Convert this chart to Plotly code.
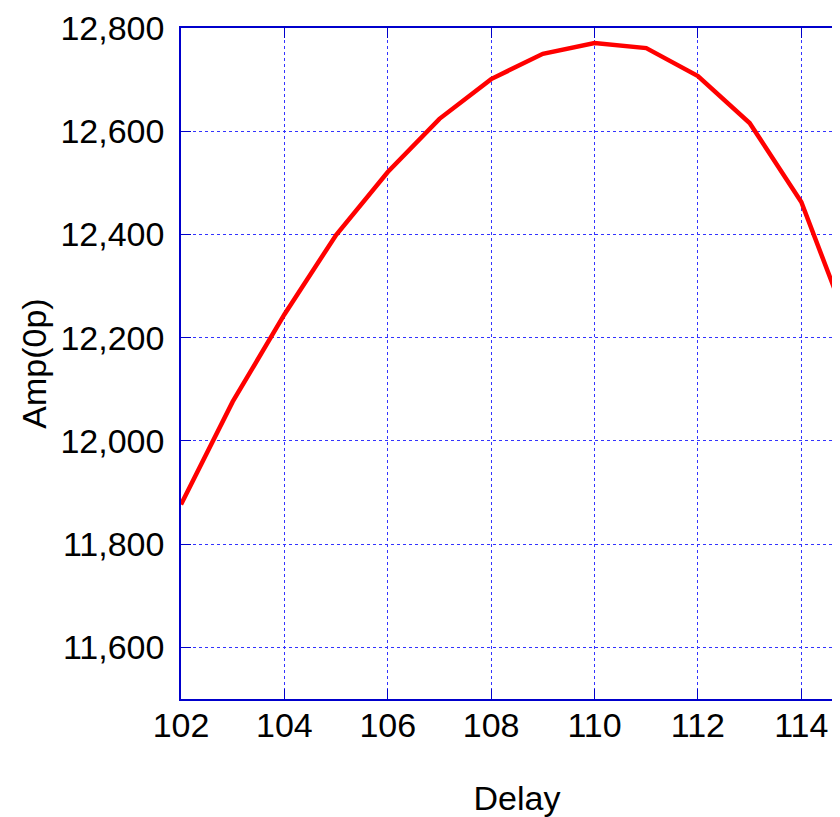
import plotly.graph_objects as go

delay = [102, 103, 104, 105, 106, 107, 108, 109, 110, 111, 112, 113, 114, 115]
amp = [11877, 12076, 12245, 12399, 12521, 12624, 12701, 12750, 12771, 12761, 12707, 12616, 12463, 12200]

FONT = "Liberation Sans, Arial"

common = dict(showgrid=True, gridcolor="#3333ff", griddash="dot", gridwidth=1,
              showline=True, linecolor="#0000cc", linewidth=1.5, mirror="ticks",
              zeroline=False, ticks="inside", ticklen=10, tickwidth=1, tickcolor="#0000cc",
              automargin=False,
              tickfont=dict(family=FONT, size=34, color="#000000"))

fig = go.Figure()
fig.add_trace(go.Scatter(x=delay, y=amp, mode="lines",
                         line=dict(color="#ff0000", width=4.5), showlegend=False))

fig.update_layout(
    width=1000, height=809,
    margin=dict(l=173, r=155, t=20, b=118),
    paper_bgcolor="white", plot_bgcolor="white",
    font=dict(family=FONT, size=34, color="#000000"),
    xaxis=dict(range=[102, 115], dtick=2, tick0=102, ticklabelstandoff=-5,
               title=dict(text="Delay", standoff=44, font=dict(size=34)), **common),
    yaxis=dict(range=[11500, 12800], dtick=200, tick0=11600, tickformat=",",
               ticklabelstandoff=8,
               title=dict(text="Amp(0p)", standoff=4, font=dict(size=34)), **common),
)

fig.write_html("out.html")
